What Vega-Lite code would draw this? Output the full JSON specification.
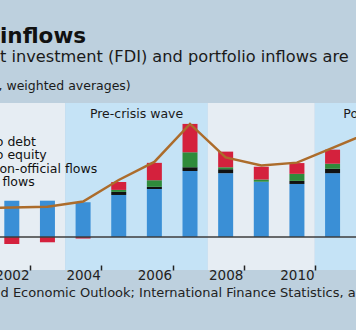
{
  "$schema": "https://vega.github.io/schema/vega-lite/v6.json",
  "width": 356,
  "height": 167,
  "autosize": {"type": "none"},
  "padding": {"left": 0, "top": 103, "right": 0, "bottom": 60},
  "background": "#bdd0de",
  "title": {
    "text": "inflows",
    "subtitle": "t investment (FDI) and portfolio inflows are",
    "anchor": "start",
    "frame": "group",
    "font": "DejaVu Sans",
    "fontSize": 21.5,
    "fontWeight": "bold",
    "color": "#111111",
    "subtitleFont": "DejaVu Sans",
    "subtitleFontSize": 16.2,
    "subtitleColor": "#1a1a1a",
    "subtitlePadding": 1,
    "offset": 14
  },
  "datasets": {
    "bands": [
      {"start": 2000.5, "end": 2003.5, "phase": "calm", "label": "", "mid": 2002},
      {"start": 2003.5, "end": 2007.5, "phase": "wave", "label": "Pre-crisis wave", "mid": 2005.5},
      {"start": 2007.5, "end": 2010.5, "phase": "calm", "label": "", "mid": 2009},
      {"start": 2010.5, "end": 2014.5, "phase": "wave", "label": "Post-crisis wave", "mid": 2012.7}
    ],
    "flows": [
      {"year": 2002, "series": "Net FDI flows", "k": 1, "value": 1.65},
      {"year": 2002, "series": "Portfolio debt", "k": 4, "value": -0.32},
      {"year": 2003, "series": "Net FDI flows", "k": 1, "value": 1.65},
      {"year": 2003, "series": "Portfolio debt", "k": 4, "value": -0.24},
      {"year": 2004, "series": "Net FDI flows", "k": 1, "value": 1.58},
      {"year": 2004, "series": "Portfolio debt", "k": 4, "value": -0.07},
      {"year": 2005, "series": "Net FDI flows", "k": 1, "value": 1.91},
      {"year": 2005, "series": "Other non-official flows", "k": 2, "value": 0.14},
      {"year": 2005, "series": "Portfolio equity", "k": 3, "value": 0.09},
      {"year": 2005, "series": "Portfolio debt", "k": 4, "value": 0.36},
      {"year": 2006, "series": "Net FDI flows", "k": 1, "value": 2.18},
      {"year": 2006, "series": "Other non-official flows", "k": 2, "value": 0.10},
      {"year": 2006, "series": "Portfolio equity", "k": 3, "value": 0.30},
      {"year": 2006, "series": "Portfolio debt", "k": 4, "value": 0.79},
      {"year": 2007, "series": "Net FDI flows", "k": 1, "value": 3.00},
      {"year": 2007, "series": "Other non-official flows", "k": 2, "value": 0.17},
      {"year": 2007, "series": "Portfolio equity", "k": 3, "value": 0.68},
      {"year": 2007, "series": "Portfolio debt", "k": 4, "value": 1.29},
      {"year": 2008, "series": "Net FDI flows", "k": 1, "value": 2.90},
      {"year": 2008, "series": "Other non-official flows", "k": 2, "value": 0.18},
      {"year": 2008, "series": "Portfolio equity", "k": 3, "value": 0.09},
      {"year": 2008, "series": "Portfolio debt", "k": 4, "value": 0.71},
      {"year": 2009, "series": "Net FDI flows", "k": 1, "value": 2.51},
      {"year": 2009, "series": "Portfolio equity", "k": 3, "value": 0.10},
      {"year": 2009, "series": "Portfolio debt", "k": 4, "value": 0.58},
      {"year": 2010, "series": "Net FDI flows", "k": 1, "value": 2.41},
      {"year": 2010, "series": "Other non-official flows", "k": 2, "value": 0.14},
      {"year": 2010, "series": "Portfolio equity", "k": 3, "value": 0.32},
      {"year": 2010, "series": "Portfolio debt", "k": 4, "value": 0.49},
      {"year": 2011, "series": "Net FDI flows", "k": 1, "value": 2.90},
      {"year": 2011, "series": "Other non-official flows", "k": 2, "value": 0.20},
      {"year": 2011, "series": "Portfolio equity", "k": 3, "value": 0.23},
      {"year": 2011, "series": "Portfolio debt", "k": 4, "value": 0.64}
    ],
    "total": [
      {"year": 2001, "total": 1.32},
      {"year": 2002, "total": 1.34},
      {"year": 2003, "total": 1.38},
      {"year": 2004, "total": 1.61},
      {"year": 2005, "total": 2.59},
      {"year": 2006, "total": 3.41},
      {"year": 2007, "total": 5.14},
      {"year": 2008, "total": 3.62},
      {"year": 2009, "total": 3.25},
      {"year": 2010, "total": 3.38},
      {"year": 2011, "total": 4.05},
      {"year": 2012, "total": 4.73}
    ]
  },
  "layer": [
    {
      "data": {"name": "bands"},
      "mark": {"type": "rect", "clip": true},
      "encoding": {
        "x": {"field": "start", "type": "quantitative", "scale": {"domain": [2001.809, 2011.517], "nice": false, "zero": false}},
        "x2": {"field": "end"},
        "fill": {"field": "phase", "type": "nominal", "scale": {"domain": ["calm", "wave"], "range": ["#e6edf3", "#c5e3f6"]}, "legend": null}
      }
    },
    {
      "data": {"name": "flows"},
      "mark": {"type": "bar", "size": 15, "clip": true},
      "encoding": {
        "x": {
          "field": "year", "type": "quantitative",
          "axis": {
            "values": [2002, 2003, 2004, 2005, 2006, 2007, 2008, 2009, 2010, 2011],
            "format": "d",
            "labelExpr": "datum.value % 2 == 0 ? datum.label : ''",
            "tickOffset": 18.33,
            "labelOffset": -18.33,
            "labelFlush": false,
            "labelOverlap": false,
            "domain": false,
            "grid": false,
            "zindex": 1,
            "tickSize": -5,
            "tickWidth": 1.5,
            "tickColor": "#222222",
            "labelFont": "DejaVu Sans",
            "labelFontSize": 13.5,
            "labelColor": "#222222",
            "labelPadding": 3,
            "title": "d Economic Outlook; International Finance Statistics, and staff estimates.",
            "titleFont": "DejaVu Sans",
            "titleFontSize": 13,
            "titleFontWeight": "normal",
            "titleColor": "#222222",
            "titleAnchor": "start",
            "titleAlign": "left",
            "titleBaseline": "alphabetic",
            "titleX": 0,
            "titleY": 26
          }
        },
        "y": {
          "field": "value", "type": "quantitative", "stack": "zero",
          "scale": {"domain": [-1.5, 6.09], "nice": false, "zero": false},
          "axis": {
            "title": ", weighted averages)",
            "labels": false, "ticks": false, "domain": false, "grid": false,
            "titleAngle": 0, "titleX": -2, "titleY": -14,
            "titleAlign": "left", "titleBaseline": "alphabetic",
            "titleFont": "DejaVu Sans", "titleFontSize": 12.5,
            "titleFontWeight": "normal", "titleColor": "#1a1a1a"
          }
        },
        "color": {
          "field": "series", "type": "nominal",
          "scale": {"domain": ["Portfolio debt", "Portfolio equity", "Other non-official flows", "Net FDI flows"], "range": ["#d4213d", "#2f8b3b", "#111111", "#3a8fd6"]},
          "legend": {
            "title": null, "orient": "none", "legendX": -64.5, "legendY": 32.5,
            "symbolType": "square", "symbolSize": 100, "symbolStrokeWidth": 0,
            "labelFont": "DejaVu Sans", "labelFontSize": 12.5, "labelColor": "#111111",
            "rowPadding": 0.5, "labelOffset": 4, "padding": 0, "labelLimit": 300
          }
        },
        "order": {"field": "k", "type": "quantitative"}
      }
    },
    {
      "data": {"values": [{}]},
      "mark": {"type": "rule", "color": "#3d3d3d", "strokeWidth": 1.5},
      "encoding": {"y": {"datum": 0, "type": "quantitative"}}
    },
    {
      "data": {"name": "total"},
      "mark": {"type": "line", "color": "#ac6c2b", "strokeWidth": 2.5, "clip": true},
      "encoding": {
        "x": {"field": "year", "type": "quantitative"},
        "y": {"field": "total", "type": "quantitative"}
      }
    },
    {
      "data": {"name": "bands"},
      "transform": [{"filter": "datum.label != ''"}],
      "mark": {"type": "text", "font": "DejaVu Sans", "fontSize": 12.5, "baseline": "alphabetic", "align": "center", "color": "#1a1a1a"},
      "encoding": {
        "x": {"field": "mid", "type": "quantitative"},
        "y": {"datum": 5.41, "type": "quantitative"},
        "text": {"field": "label"}
      }
    }
  ],
  "config": {"view": {"stroke": null}, "font": "DejaVu Sans"}
}
